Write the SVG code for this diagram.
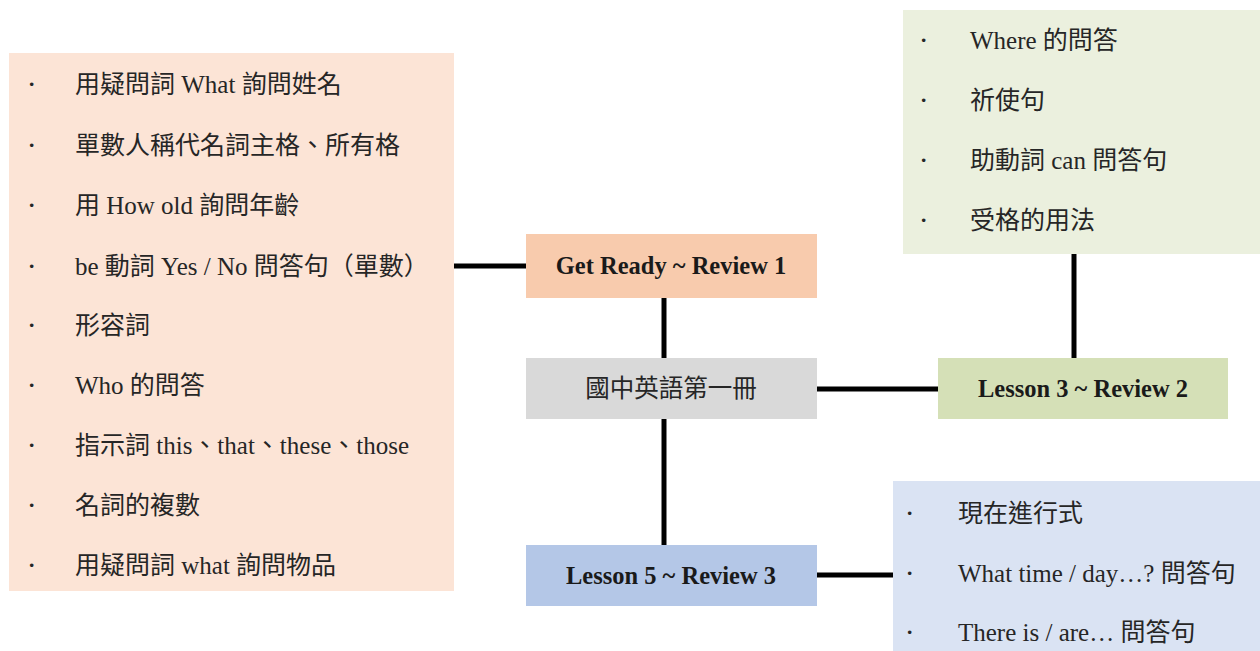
<svg xmlns="http://www.w3.org/2000/svg" width="1260" height="651" viewBox="0 0 1260 651">
<style>
.item{font-family:"Liberation Serif","Noto Sans CJK TC",serif;font-size:25px;fill:#262626}
.bul{font-family:"Liberation Serif",serif;font-size:22px;fill:#262626;font-weight:bold}
.lbl{font-family:"Liberation Serif","Noto Sans CJK TC",serif;font-size:24.5px;font-weight:bold;fill:#1a1a1a;text-anchor:middle}
.ctr{font-family:"Liberation Serif","Noto Sans CJK TC",serif;font-size:24.5px;fill:#262626;text-anchor:middle}
.con{stroke:#000;stroke-width:5;fill:none}
</style>
<rect width="1260" height="651" fill="#fff"/>
<g id="connectors">
<line class="con" x1="454" y1="266" x2="526" y2="266"/>
<line class="con" x1="664" y1="298" x2="664" y2="358"/>
<line class="con" x1="664" y1="419" x2="664" y2="545"/>
<line class="con" x1="817" y1="389" x2="938" y2="389"/>
<line class="con" x1="1074" y1="254" x2="1074" y2="358"/>
<line class="con" x1="817" y1="575" x2="893" y2="575"/>
</g>
<g id="list1">
<rect x="9" y="53" width="445" height="538" fill="#FCE4D6"/>
<g class="bul"><text x="28" y="91">·</text><text x="28" y="152">·</text><text x="28" y="212">·</text><text x="28" y="273">·</text><text x="28" y="332">·</text><text x="28" y="392">·</text><text x="28" y="452">·</text><text x="28" y="512">·</text><text x="28" y="572">·</text></g>
<text class="item" x="75" y="93">用疑問詞 What 詢問姓名</text>
<text class="item" x="75" y="154">單數人稱代名詞主格、所有格</text>
<text class="item" x="75" y="214">用 How old 詢問年齡</text>
<text class="item" x="75" y="275">be 動詞 Yes / No 問答句（單數）</text>
<text class="item" x="75" y="334">形容詞</text>
<text class="item" x="75" y="394">Who 的問答</text>
<text class="item" x="75" y="454">指示詞 this、that、these、those</text>
<text class="item" x="75" y="514">名詞的複數</text>
<text class="item" x="75" y="574">用疑問詞 what 詢問物品</text>
</g>
<g id="review1">
<rect x="526" y="234" width="291" height="64" fill="#F8CBAD"/>
<text class="lbl" x="671" y="274">Get Ready ~ Review 1</text>
</g>
<g id="center">
<rect x="526" y="358" width="291" height="61" fill="#D9D9D9"/>
<text class="ctr" x="671" y="397">國中英語第一冊</text>
</g>
<g id="review3">
<rect x="526" y="545" width="291" height="61" fill="#B4C7E7"/>
<text class="lbl" x="671" y="584">Lesson 5 ~ Review 3</text>
</g>
<g id="review2">
<rect x="938" y="358" width="290" height="61" fill="#D5E0B7"/>
<text class="lbl" x="1083" y="397">Lesson 3 ~ Review 2</text>
</g>
<g id="list2">
<rect x="903" y="10" width="357" height="244" fill="#EBF0DE"/>
<g class="bul"><text x="920" y="47">·</text><text x="920" y="107">·</text><text x="920" y="167">·</text><text x="920" y="227">·</text></g>
<text class="item" x="970" y="49">Where 的問答</text>
<text class="item" x="970" y="109">祈使句</text>
<text class="item" x="970" y="169">助動詞 can 問答句</text>
<text class="item" x="970" y="229">受格的用法</text>
</g>
<g id="list3">
<rect x="893" y="481" width="367" height="170" fill="#DAE3F3"/>
<g class="bul"><text x="906" y="520">·</text><text x="906" y="580">·</text><text x="906" y="639">·</text></g>
<text class="item" x="958" y="522">現在進行式</text>
<text class="item" x="958" y="582">What time / day…? 問答句</text>
<text class="item" x="958" y="641">There is / are… 問答句</text>
</g>
</svg>
